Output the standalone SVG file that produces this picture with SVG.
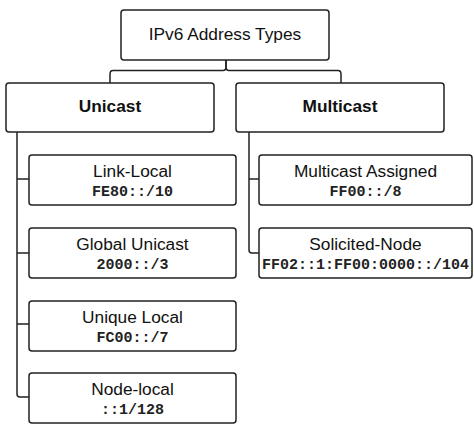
<svg xmlns="http://www.w3.org/2000/svg" width="474" height="431" viewBox="0 0 474 431">
<style>
.box{fill:#fff;stroke:#222;stroke-width:1.5}
.c{fill:none;stroke:#222;stroke-width:1.5}
.t{font-family:"Liberation Sans",Arial,sans-serif;font-size:17.3px;fill:#111;text-anchor:middle}
.b{font-weight:bold}
.m{font-family:"Liberation Mono","Courier New",monospace;font-size:15px;font-weight:bold;fill:#222;text-anchor:middle}
</style>
<rect width="474" height="431" fill="#fff"/>
<g id="connectors">
<path class="c" d="M226,60 V67 Q226,70.5 223,70.5 H113 Q110,70.5 110,74 V83"/>
<path class="c" d="M226,60 V67 Q226,70.5 229,70.5 H338 Q341,70.5 341,74 V83"/>
<path class="c" d="M17,132 V394 Q17,397 20,397 H29"/>
<path class="c" d="M17,179 H29 M17,253 H29 M17,324 H29"/>
<path class="c" d="M249,132 V250 Q249,253 252,253 H259"/>
<path class="c" d="M249,179 H259"/>
</g>
<g id="root">
<rect class="box" x="121" y="10" width="208" height="50" rx="3"/>
<text class="t" x="225" y="39.5">IPv6 Address Types</text>
</g>
<g id="unicast">
<rect class="box" x="6" y="83" width="208" height="49" rx="3"/>
<text class="t b" x="110" y="112">Unicast</text>
</g>
<g id="multicast">
<rect class="box" x="236" y="83" width="208" height="49" rx="3"/>
<text class="t b" x="340" y="112">Multicast</text>
</g>
<g id="link-local">
<rect class="box" x="29" y="155" width="207" height="50" rx="3"/>
<text class="t" x="132.5" y="176.7">Link-Local</text>
<text class="m" x="132.5" y="196">FE80::/10</text>
</g>
<g id="global-unicast">
<rect class="box" x="29" y="228" width="207" height="50" rx="3"/>
<text class="t" x="132.5" y="249.7">Global Unicast</text>
<text class="m" x="132.5" y="269">2000::/3</text>
</g>
<g id="unique-local">
<rect class="box" x="29" y="301" width="207" height="50" rx="3"/>
<text class="t" x="132.5" y="322.7">Unique Local</text>
<text class="m" x="132.5" y="342">FC00::/7</text>
</g>
<g id="node-local">
<rect class="box" x="29" y="373" width="207" height="50" rx="3"/>
<text class="t" x="132.5" y="394.7">Node-local</text>
<text class="m" x="132.5" y="414">::1/128</text>
</g>
<g id="multicast-assigned">
<rect class="box" x="259" y="155" width="213" height="50" rx="3"/>
<text class="t" x="365.5" y="176.7">Multicast Assigned</text>
<text class="m" x="365.5" y="196">FF00::/8</text>
</g>
<g id="solicited-node">
<rect class="box" x="259" y="228" width="213" height="50" rx="3"/>
<text class="t" x="365.5" y="249.7">Solicited-Node</text>
<text class="m" x="365.5" y="269">FF02::1:FF00:0000::/104</text>
</g>
</svg>
